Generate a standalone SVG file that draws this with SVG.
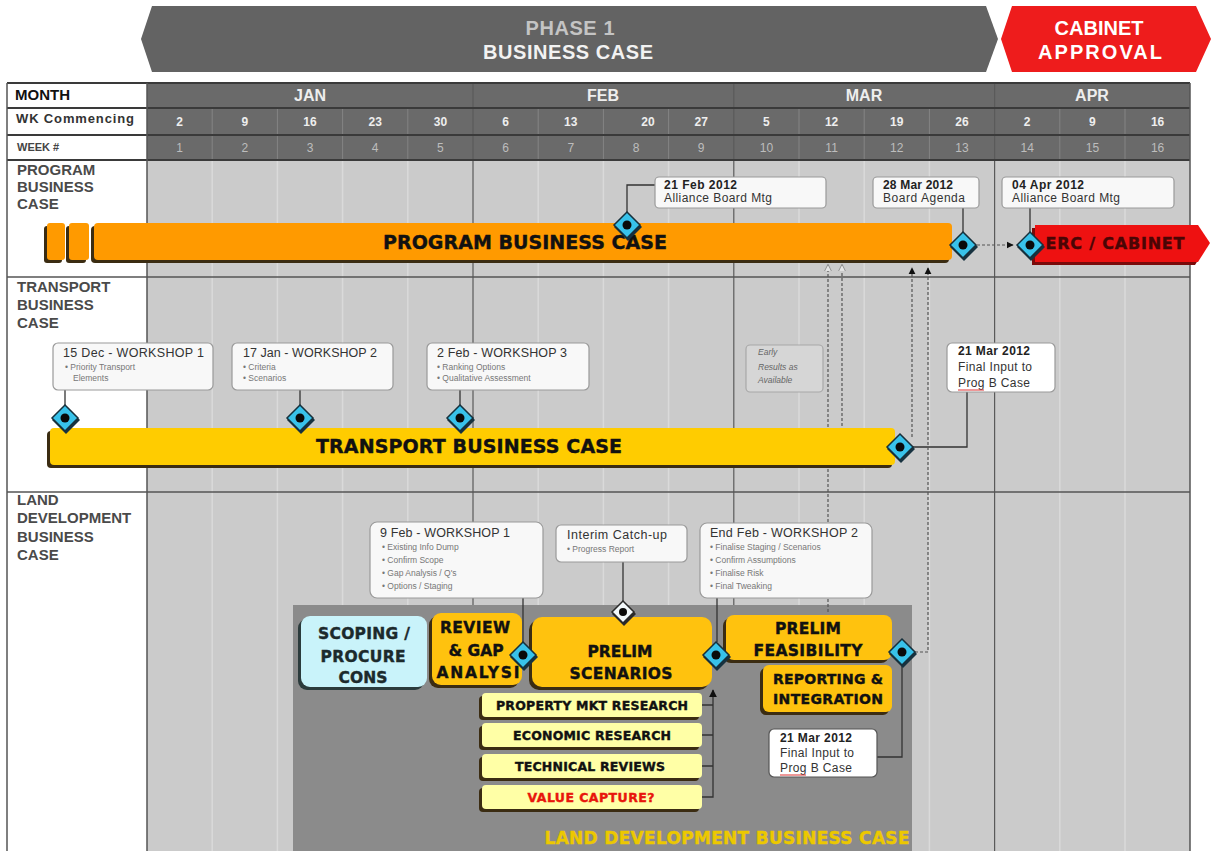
<svg xmlns="http://www.w3.org/2000/svg" width="1212" height="851" viewBox="0 0 1212 851">
<defs>
<style>
.lbl{font-family:"Liberation Sans",Arial,sans-serif;font-weight:bold;font-size:15px;fill:#4a4a4a}
.hdr{font-family:"Liberation Sans",Arial,sans-serif;font-weight:bold;fill:#eeeeee;text-anchor:middle}
.wk{font-family:"Liberation Sans",Arial,sans-serif;font-size:12px;fill:#bdbdbd;text-anchor:middle}
.ban{font-family:"Liberation Sans",Arial,sans-serif;font-weight:bold;font-size:20px;text-anchor:middle}
.heavy{font-family:"DejaVu Sans","Liberation Sans",sans-serif;font-weight:bold;fill:#111;stroke:#111;stroke-width:0.4;text-anchor:middle}
.ct{font-family:"Liberation Sans",Arial,sans-serif;font-weight:bold;font-size:12px;fill:#222}
.cn{font-family:"Liberation Sans",Arial,sans-serif;font-size:12px;fill:#333}
.wt{font-family:"Liberation Sans",Arial,sans-serif;font-size:12.5px;fill:#333}
.bt{font-family:"Liberation Sans",Arial,sans-serif;font-size:8.5px;fill:#777}
.it{font-family:"Liberation Sans",Arial,sans-serif;font-size:8.5px;font-style:italic;fill:#666}
.callout{fill:#f8f8f8;stroke:#9a9a9a;stroke-width:1.2}
.conn{fill:none;stroke:#333;stroke-width:1.3}
.dash{fill:none;stroke:#555;stroke-width:1.2;stroke-dasharray:3 2}
.shadow{fill:#3b2c12}
.gold{fill:#ffc20e}
.ly{fill:#ffffa6}
</style>
<g id="dm">
<polygon points="1,-12 15,2 1,16 -13,2" fill="#173240"/>
<polygon points="0,-13 13,0 0,13 -13,0" fill="#38c2ea" stroke="#16303c" stroke-width="1.5"/>
<circle r="4.5" fill="#0a0a0a"/>
</g>
<g id="dmw">
<polygon points="1,-10 13,2 1,14 -11,2" fill="#2a2a2a"/>
<polygon points="0,-11 11,0 0,11 -11,0" fill="#f2f8fa" stroke="#2a2a2a" stroke-width="1.5"/>
<circle r="4" fill="#0a0a0a"/>
</g>
<marker id="ah" viewBox="0 0 10 10" refX="9" refY="5" markerWidth="6" markerHeight="6" orient="auto"><path d="M0,0 L10,5 L0,10 z" fill="#111"/></marker>
<marker id="ahw" viewBox="0 0 10 10" refX="9" refY="5" markerWidth="6" markerHeight="6" orient="auto"><path d="M0,0 L10,5 L0,10 z" fill="#e6e6e6" stroke="#777" stroke-width="1"/></marker>
</defs>
<rect width="1212" height="851" fill="#ffffff"/>

<g id="banner-phase1">
<polygon points="152,6 986,6 998,39 986,72 152,72 141,39" fill="#636363"/>
<text x="570" y="35" class="ban" fill="#c4c4c4" textLength="89">PHASE 1</text>
<text x="568" y="59" class="ban" fill="#f2f2f2" textLength="170">BUSINESS CASE</text>
</g>
<g id="banner-cabinet">
<polygon points="1012,6 1196,6 1211,39 1196,72 1012,72 1001,39" fill="#ee1c1c"/>
<text x="1099" y="35" class="ban" fill="#ffffff" textLength="89">CABINET</text>
<text x="1100" y="59" class="ban" fill="#ffffff" textLength="124">APPROVAL</text>
</g>

<g id="table">
<rect x="147" y="83" width="1043" height="77" fill="#6a6a6a"/>
<rect x="147" y="160" width="1043" height="691" fill="#cbcbcb"/>
<g stroke="#848484" stroke-width="1">
<line x1="212.2" y1="108" x2="212.2" y2="160"/><line x1="277.4" y1="108" x2="277.4" y2="160"/>
<line x1="342.6" y1="108" x2="342.6" y2="160"/><line x1="407.8" y1="108" x2="407.8" y2="160"/>
<line x1="538.2" y1="108" x2="538.2" y2="160"/><line x1="603.4" y1="108" x2="603.4" y2="160"/>
<line x1="668.6" y1="108" x2="668.6" y2="160"/><line x1="799" y1="108" x2="799" y2="160"/>
<line x1="864.2" y1="108" x2="864.2" y2="160"/><line x1="929.4" y1="108" x2="929.4" y2="160"/>
<line x1="1059.8" y1="108" x2="1059.8" y2="160"/><line x1="1125" y1="108" x2="1125" y2="160"/>
</g>
<g stroke="#dadada" stroke-width="1.5">
<line x1="212.2" y1="160" x2="212.2" y2="851"/><line x1="277.4" y1="160" x2="277.4" y2="851"/>
<line x1="342.6" y1="160" x2="342.6" y2="851"/><line x1="407.8" y1="160" x2="407.8" y2="851"/>
<line x1="538.2" y1="160" x2="538.2" y2="851"/><line x1="603.4" y1="160" x2="603.4" y2="851"/>
<line x1="668.6" y1="160" x2="668.6" y2="851"/><line x1="799" y1="160" x2="799" y2="851"/>
<line x1="864.2" y1="160" x2="864.2" y2="851"/><line x1="929.4" y1="160" x2="929.4" y2="851"/>
<line x1="1059.8" y1="160" x2="1059.8" y2="851"/><line x1="1125" y1="160" x2="1125" y2="851"/>
</g>
<g stroke="#5a5a5a" stroke-width="1.2">
<line x1="473" y1="83" x2="473" y2="851"/><line x1="733.8" y1="83" x2="733.8" y2="851"/><line x1="994.6" y1="83" x2="994.6" y2="851"/>
</g>
<g stroke="#3a3a3a" stroke-width="2">
<line x1="7" y1="83" x2="1190" y2="83"/><line x1="7" y1="108" x2="1190" y2="108"/>
<line x1="7" y1="135" x2="1190" y2="135"/><line x1="7" y1="160" x2="1190" y2="160"/>
</g>
<g stroke="#555" stroke-width="1.5">
<line x1="7" y1="277" x2="1190" y2="277"/><line x1="7" y1="492" x2="1190" y2="492"/>
<line x1="7" y1="83" x2="7" y2="851"/><line x1="147" y1="83" x2="147" y2="851"/><line x1="1190" y1="83" x2="1190" y2="851"/>
</g>
<text x="15" y="100" font-family="Liberation Sans, Arial, sans-serif" font-weight="bold" font-size="15" fill="#111">MONTH</text>
<text x="16" y="123" font-family="Liberation Sans, Arial, sans-serif" font-weight="bold" font-size="13" fill="#333" textLength="118">WK Commencing</text>
<text x="17" y="151" font-family="Liberation Sans, Arial, sans-serif" font-weight="bold" font-size="11" fill="#444">WEEK #</text>
<text class="hdr" font-size="16" x="310" y="101">JAN</text>
<text class="hdr" font-size="16" x="603" y="101">FEB</text>
<text class="hdr" font-size="16" x="864" y="101">MAR</text>
<text class="hdr" font-size="16" x="1092" y="101">APR</text>
<g class="hdr" font-size="12">
<text x="179.6" y="126">2</text><text x="244.8" y="126">9</text><text x="310" y="126">16</text><text x="375.2" y="126">23</text><text x="440.4" y="126">30</text>
<text x="505.6" y="126">6</text><text x="570.8" y="126">13</text><text x="648" y="126">20</text><text x="701.2" y="126">27</text>
<text x="766.4" y="126">5</text><text x="831.6" y="126">12</text><text x="896.8" y="126">19</text><text x="962" y="126">26</text>
<text x="1027.2" y="126">2</text><text x="1092.4" y="126">9</text><text x="1157.6" y="126">16</text>
</g>
<g class="wk">
<text x="179.6" y="152">1</text><text x="244.8" y="152">2</text><text x="310" y="152">3</text><text x="375.2" y="152">4</text><text x="440.4" y="152">5</text>
<text x="505.6" y="152">6</text><text x="570.8" y="152">7</text><text x="636" y="152">8</text><text x="701.2" y="152">9</text>
<text x="766.4" y="152">10</text><text x="831.6" y="152">11</text><text x="896.8" y="152">12</text><text x="962" y="152">13</text>
<text x="1027.2" y="152">14</text><text x="1092.4" y="152">15</text><text x="1157.6" y="152">16</text>
</g>
<text class="lbl" x="17" y="175">PROGRAM</text>
<text class="lbl" x="17" y="192">BUSINESS</text>
<text class="lbl" x="17" y="209">CASE</text>
<text class="lbl" x="17" y="292">TRANSPORT</text>
<text class="lbl" x="17" y="310">BUSINESS</text>
<text class="lbl" x="17" y="328">CASE</text>
<text class="lbl" x="17" y="505">LAND</text>
<text class="lbl" x="17" y="523">DEVELOPMENT</text>
<text class="lbl" x="17" y="542">BUSINESS</text>
<text class="lbl" x="17" y="560">CASE</text>
</g>

<g id="land-area">
<rect x="293" y="605" width="619" height="246" fill="#8b8b8b"/>
<text class="heavy" x="727" y="844" font-size="17" style="fill:#ecc800;stroke:#ecc800" textLength="365">LAND DEVELOPMENT BUSINESS CASE</text>
</g>

<g id="connectors">
<path class="conn" d="M627,213 V185 H655"/>
<path class="conn" d="M963,208 V233"/>
<path class="conn" d="M1030,208 V233"/>
<path class="conn" d="M65,390 V406"/>
<path class="conn" d="M300,390 V406"/>
<path class="conn" d="M460,390 V406"/>
<path class="conn" d="M967,392 V447 H913"/>
<path class="conn" d="M523,598 V642"/>
<path class="conn" d="M717,598 V642"/>
<path class="conn" d="M623,562 V601"/>
<path class="conn" d="M877,757 H902 V665"/>
<path class="conn" d="M702,705 H713 M702,735 H713 M702,766 H713 M702,797 H713 V690" marker-end="url(#ah)"/>
<path class="dash" d="M977,245 H1013" marker-end="url(#ah)"/>
<path class="dash" d="M915,652 H928 V268" marker-end="url(#ah)"/>
<path class="dash" d="M912,437 V268" marker-end="url(#ah)"/>
<path class="dash" d="M828,612 V265" marker-end="url(#ahw)"/>
<path class="dash" d="M842,466 V265" marker-end="url(#ahw)"/>
</g>

<g id="program-bar">
<rect x="44" y="226" width="18" height="37" rx="3" class="shadow"/>
<rect x="47" y="223" width="18" height="37" rx="3" fill="#ff9a00"/>
<rect x="66" y="226" width="20" height="37" rx="3" class="shadow"/>
<rect x="69" y="223" width="20" height="37" rx="3" fill="#ff9a00"/>
<rect x="91" y="226" width="858" height="37" rx="4" class="shadow"/>
<rect x="94" y="223" width="858" height="37" rx="4" fill="#ff9a00"/>
<text class="heavy" x="525" y="249" font-size="19" textLength="284">PROGRAM BUSINESS CASE</text>
</g>
<g id="erc-cabinet-bar">
<polygon points="1032,228 1195,228 1207,246 1195,265 1032,265" fill="#7a0a0a"/>
<polygon points="1035,225 1198,225 1210,243 1198,262 1035,262" fill="#ee1111"/>
<text class="heavy" x="1115" y="249" font-size="16" style="fill:#4a0505;stroke:#4a0505" textLength="139">ERC / CABINET</text>
</g>
<g id="transport-bar">
<rect x="47" y="431" width="845" height="37" rx="4" class="shadow"/>
<rect x="50" y="428" width="845" height="37" rx="4" fill="#ffcc00"/>
<text class="heavy" x="469" y="453" font-size="19" textLength="306">TRANSPORT BUSINESS CASE</text>
</g>

<g id="callout-21feb">
<rect class="callout" x="655" y="177" width="171" height="31" rx="4"/>
<text class="ct" x="664" y="189" textLength="73">21 Feb 2012</text>
<text class="cn" x="664" y="202" textLength="108">Alliance Board Mtg</text>
</g>
<g id="callout-28mar">
<rect class="callout" x="873" y="177" width="106" height="31" rx="4"/>
<text class="ct" x="883" y="189" textLength="70">28 Mar 2012</text>
<text class="cn" x="883" y="202" textLength="82">Board Agenda</text>
</g>
<g id="callout-04apr">
<rect class="callout" x="1002" y="177" width="172" height="31" rx="4"/>
<text class="ct" x="1012" y="189" textLength="72">04 Apr 2012</text>
<text class="cn" x="1012" y="202" textLength="108">Alliance Board Mtg</text>
</g>

<g id="callout-t-ws1">
<rect class="callout" x="53" y="343" width="160" height="47" rx="5"/>
<text class="wt" x="63" y="357" textLength="141">15 Dec - WORKSHOP 1</text>
<text class="bt" x="65" y="370">• Priority Transport</text>
<text class="bt" x="73" y="381">Elements</text>
</g>
<g id="callout-t-ws2">
<rect class="callout" x="232" y="343" width="161" height="47" rx="5"/>
<text class="wt" x="243" y="357" textLength="134">17 Jan - WORKSHOP 2</text>
<text class="bt" x="243" y="370">• Criteria</text>
<text class="bt" x="243" y="381">• Scenarios</text>
</g>
<g id="callout-t-ws3">
<rect class="callout" x="427" y="343" width="162" height="47" rx="5"/>
<text class="wt" x="437" y="357" textLength="130">2 Feb - WORKSHOP 3</text>
<text class="bt" x="437" y="370">• Ranking Options</text>
<text class="bt" x="437" y="381">• Qualitative Assessment</text>
</g>
<g id="callout-early">
<rect x="746" y="345" width="77" height="47" rx="4" fill="#d6d6d6" stroke="#a8a8a8" stroke-width="1.2"/>
<text class="it" x="758" y="355">Early</text>
<text class="it" x="758" y="370">Results as</text>
<text class="it" x="758" y="383">Available</text>
</g>
<g id="callout-t-21mar">
<rect x="947" y="343" width="108" height="49" rx="5" fill="#ffffff" stroke="#9a9a9a" stroke-width="1.2"/>
<text class="ct" x="958" y="355" textLength="72">21 Mar 2012</text>
<text class="cn" x="958" y="371" textLength="74">Final Input to</text>
<text class="cn" x="958" y="387" textLength="72">Prog B Case</text>
<line x1="958" y1="390" x2="984" y2="390" stroke="#d33" stroke-width="1"/>
</g>

<g id="callout-l-ws1">
<rect class="callout" x="370" y="522" width="173" height="76" rx="7"/>
<text class="wt" x="380" y="537" textLength="130">9 Feb - WORKSHOP 1</text>
<text class="bt" x="382" y="550">• Existing Info Dump</text>
<text class="bt" x="382" y="563">• Confirm Scope</text>
<text class="bt" x="382" y="576">• Gap Analysis / Q's</text>
<text class="bt" x="382" y="589">• Options / Staging</text>
</g>
<g id="callout-interim">
<rect class="callout" x="556" y="525" width="131" height="37" rx="5"/>
<text class="wt" x="567" y="539" textLength="100">Interim Catch-up</text>
<text class="bt" x="567" y="552">• Progress Report</text>
</g>
<g id="callout-l-ws2">
<rect class="callout" x="700" y="523" width="172" height="75" rx="7"/>
<text class="wt" x="710" y="537" textLength="148">End Feb - WORKSHOP 2</text>
<text class="bt" x="710" y="550">• Finalise Staging / Scenarios</text>
<text class="bt" x="710" y="563">• Confirm Assumptions</text>
<text class="bt" x="710" y="576">• Finalise Risk</text>
<text class="bt" x="710" y="589">• Final Tweaking</text>
</g>

<g id="scoping">
<rect x="298" y="619" width="126" height="71" rx="9" fill="#2b3b3c"/>
<rect x="301" y="616" width="126" height="71" rx="9" fill="#c9f3fa"/>
<text class="heavy" x="364" y="639" font-size="15.5" style="fill:#1c2a2c;stroke:#1c2a2c" textLength="92">SCOPING /</text>
<text class="heavy" x="363" y="662" font-size="15.5" style="fill:#1c2a2c;stroke:#1c2a2c" textLength="85">PROCURE</text>
<text class="heavy" x="363" y="683" font-size="15.5" style="fill:#1c2a2c;stroke:#1c2a2c" textLength="49">CONS</text>
</g>
<g id="review">
<rect x="429" y="616" width="90" height="72" rx="9" class="shadow"/>
<rect x="432" y="613" width="90" height="72" rx="9" class="gold"/>
<text class="heavy" x="475" y="633" font-size="15.5" textLength="70">REVIEW</text>
<text class="heavy" x="476" y="656" font-size="15.5" textLength="55">&amp; GAP</text>
<text class="heavy" x="478" y="678" font-size="15.5" textLength="83">ANALYSI</text>
</g>
<g id="prelim-scenarios">
<rect x="529" y="620" width="180" height="70" rx="10" class="shadow"/>
<rect x="532" y="617" width="180" height="70" rx="10" class="gold"/>
<text class="heavy" x="620" y="657" font-size="15.5" textLength="65">PRELIM</text>
<text class="heavy" x="621" y="679" font-size="15.5" textLength="103">SCENARIOS</text>
</g>
<g id="prelim-feasibility">
<rect x="723" y="618" width="166" height="45" rx="8" class="shadow"/>
<rect x="726" y="615" width="166" height="45" rx="8" class="gold"/>
<text class="heavy" x="808" y="634" font-size="15.5" textLength="66">PRELIM</text>
<text class="heavy" x="808" y="656" font-size="15.5" textLength="109">FEASIBILITY</text>
</g>
<g id="reporting">
<rect x="760" y="668" width="129" height="47" rx="6" class="shadow"/>
<rect x="763" y="665" width="129" height="47" rx="6" class="gold"/>
<text class="heavy" x="828" y="684" font-size="14" textLength="110">REPORTING &amp;</text>
<text class="heavy" x="828" y="704" font-size="14" textLength="110">INTEGRATION</text>
</g>
<g id="callout-l-21mar">
<rect x="769" y="729" width="108" height="48" rx="5" fill="#ffffff" stroke="#555" stroke-width="1.2"/>
<text class="ct" x="780" y="742" textLength="72">21 Mar 2012</text>
<text class="cn" x="780" y="757" textLength="74">Final Input to</text>
<text class="cn" x="780" y="772" textLength="72">Prog B Case</text>
<line x1="780" y1="775" x2="806" y2="775" stroke="#d33" stroke-width="1"/>
</g>
<g id="property">
<rect x="479" y="696" width="220" height="24" rx="4" class="shadow"/>
<rect x="482" y="693" width="220" height="24" rx="4" class="ly"/>
<text class="heavy" x="592" y="710" font-size="12.5" textLength="192">PROPERTY MKT RESEARCH</text>
</g>
<g id="economic">
<rect x="479" y="726" width="220" height="24" rx="4" class="shadow"/>
<rect x="482" y="723" width="220" height="24" rx="4" class="ly"/>
<text class="heavy" x="592" y="740" font-size="12.5" textLength="158">ECONOMIC RESEARCH</text>
</g>
<g id="technical">
<rect x="479" y="757" width="220" height="24" rx="4" class="shadow"/>
<rect x="482" y="754" width="220" height="24" rx="4" class="ly"/>
<text class="heavy" x="590" y="771" font-size="12.5" textLength="150">TECHNICAL REVIEWS</text>
</g>
<g id="value-capture">
<rect x="479" y="788" width="220" height="24" rx="4" class="shadow"/>
<rect x="482" y="785" width="220" height="24" rx="4" class="ly"/>
<text class="heavy" x="591" y="802" font-size="12.5" style="fill:#e8160c;stroke:#e8160c" textLength="127">VALUE CAPTURE?</text>
</g>

<g id="milestones">
<use href="#dm" x="627" y="225"/>
<use href="#dm" x="963" y="245"/>
<use href="#dm" x="1030" y="245"/>
<use href="#dm" x="65" y="418"/>
<use href="#dm" x="300" y="418"/>
<use href="#dm" x="460" y="418"/>
<use href="#dm" x="900" y="447"/>
<use href="#dm" x="523" y="655"/>
<use href="#dm" x="716" y="655"/>
<use href="#dm" x="902" y="652"/>
<use href="#dmw" x="623" y="612"/>
</g>
</svg>
